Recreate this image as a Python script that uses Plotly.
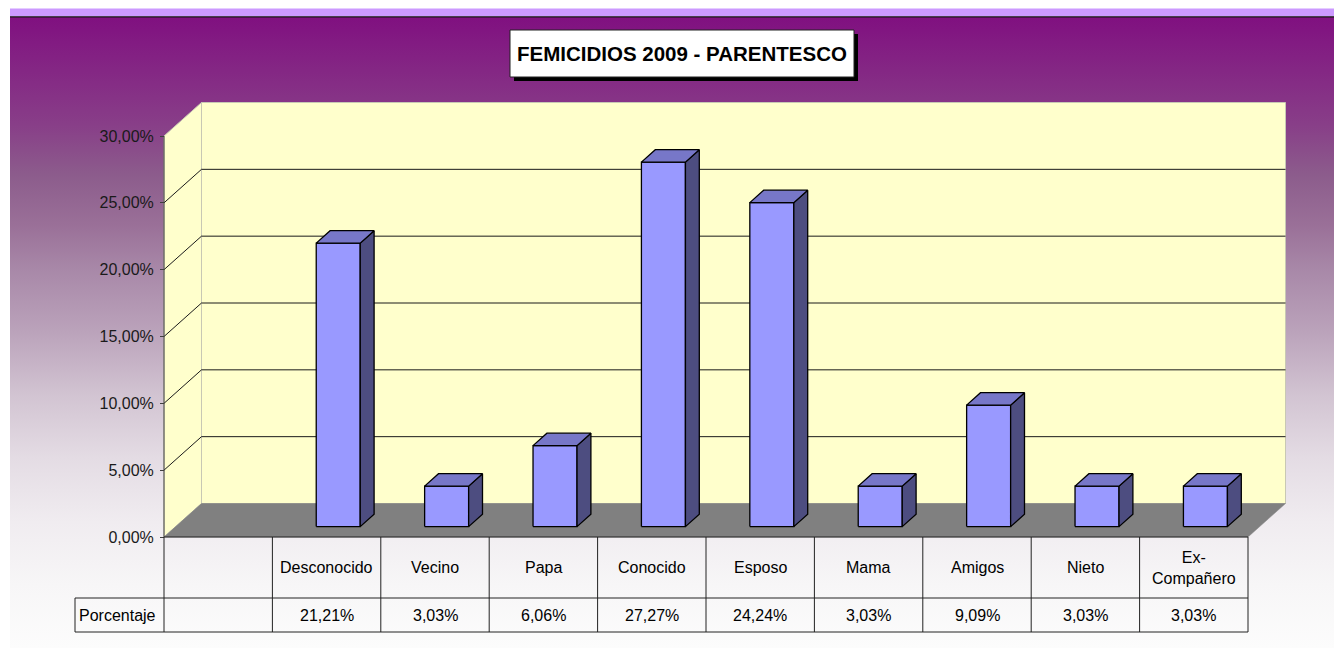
import plotly.graph_objects as go

# ---------------- data ----------------
categories = ["", "Desconocido", "Vecino", "Papa", "Conocido", "Esposo",
              "Mama", "Amigos", "Nieto", "Ex-Compañero"]
porcentaje = [None, 21.21, 3.03, 6.06, 27.27, 24.24, 3.03, 9.09, 3.03, 3.03]
tick_values = [0, 5, 10, 15, 20, 25, 30]
tick_labels = ["0,00%", "5,00%", "10,00%", "15,00%", "20,00%", "25,00%", "30,00%"]
title_text = "FEMICIDIOS 2009 - PARENTESCO"
series_name = "Porcentaje"

# ---------------- layout calibration (page pixel coordinates) ----------------
OFF = 8                 # default page margin around the plot div
W, H = 1342 - OFF, 648 - OFF
X0 = 164.0          # page x of left edge of first column
CW = 108.4          # width of one category column
Y0 = 537.0          # page y of the 0 % baseline (front)
PPU = 401.0 / 30.0  # pixels per 1 %
DXP, DYP = 37.5, 33.5   # 3D depth offset in pixels
ODX, ODY = DXP / CW, DYP / PPU
D_FRONT, D_BACK = 0.31, 0.68   # bar depth position
HALF_W = 22.0 / CW             # half bar width
VMAX = 30


def xd(px):  # page pixel -> x data
    return -0.5 + (px - X0) / CW


def yd(py):  # page pixel -> y data
    return (Y0 - py) / PPU


def ppx(px):
    return (px - OFF) / W


def ppy(py):
    return 1 - (py - OFF) / H


x_range = [xd(OFF), xd(OFF + W)]
y_range = [yd(OFF + H), yd(OFF)]

FONT = "Liberation Sans, Arial, sans-serif"
fig = go.Figure()

# background gradient of chart area
grad_scale = [
    [0.00, "#FCFCFC"], [0.10, "#F7F6F7"], [0.20, "#F0ECF0"], [0.30, "#E4DCE4"],
    [0.40, "#D2C4D2"], [0.50, "#BBA3BB"], [0.60, "#A888A8"], [0.67, "#9A7098"],
    [0.75, "#8C5C8C"], [0.83, "#883E88"], [1.00, "#801080"],
]
gx0, gx1 = xd(10), x_range[1] + 0.5
gy0, gy1 = y_range[0] - 0.2, yd(17)
fig.add_trace(go.Scatter(
    x=[gx0, gx1, gx1, gx0, gx0], y=[gy0, gy0, gy1, gy1, gy0],
    mode="lines", line=dict(width=0), fill="toself",
    fillgradient=dict(type="vertical", colorscale=grad_scale, start=yd(648), stop=gy1),
    hoverinfo="skip", showlegend=False))

L = -0.5
R = len(categories) - 0.5
WALL = "#FFFFCC"
WALL_EDGE = "#C8C8B4"
# side wall
fig.add_trace(go.Scatter(
    x=[L, L, L + ODX, L + ODX, L], y=[0, VMAX, VMAX + ODY, ODY, 0],
    mode="lines", fill="toself", fillcolor=WALL, line=dict(color=WALL_EDGE, width=1),
    hoverinfo="skip", showlegend=False))
# back wall
fig.add_trace(go.Scatter(
    x=[L + ODX, R + ODX, R + ODX, L + ODX, L + ODX],
    y=[ODY, ODY, VMAX + ODY, VMAX + ODY, ODY],
    mode="lines", fill="toself", fillcolor=WALL, line=dict(color=WALL_EDGE, width=1),
    hoverinfo="skip", showlegend=False))
# floor
fig.add_trace(go.Scatter(
    x=[L, R, R + ODX, L + ODX, L], y=[0, 0, ODY, ODY, 0],
    mode="lines", fill="toself", fillcolor="#808080", line=dict(color="#808080", width=0.5),
    hoverinfo="skip", showlegend=False))
# gridlines
gx, gy = [], []
for v in tick_values[1:-1]:
    gx += [L, L + ODX, R + ODX, None]
    gy += [v, v + ODY, v + ODY, None]
fig.add_trace(go.Scatter(x=gx, y=gy, mode="lines", line=dict(color="#1A1A1A", width=1),
                         hoverinfo="skip", showlegend=False))
# axis line
fig.add_trace(go.Scatter(x=[L, L], y=[0, VMAX], mode="lines",
                         line=dict(color="#404040", width=1),
                         hoverinfo="skip", showlegend=False))

# 3D bars
FRONT_C, SIDE_C, TOP_C = "#9999FF", "#4D4D80", "#7777C8"
for i, val in enumerate(porcentaje):
    if val is None:
        continue
    fx0 = i - HALF_W + D_FRONT * ODX
    fx1 = i + HALF_W + D_FRONT * ODX
    bx0 = i - HALF_W + D_BACK * ODX
    bx1 = i + HALF_W + D_BACK * ODX
    fy = D_FRONT * ODY
    by = D_BACK * ODY
    faces = [
        ([fx0, fx1, fx1, fx0, fx0], [fy, fy, val + fy, val + fy, fy], FRONT_C),
        ([fx1, bx1, bx1, fx1, fx1], [fy, by, val + by, val + fy, fy], SIDE_C),
        ([fx0, fx1, bx1, bx0, fx0], [val + fy, val + fy, val + by, val + by, val + fy], TOP_C),
    ]
    for xs, ys, col in faces:
        fig.add_trace(go.Scatter(
            x=xs, y=ys, mode="lines", fill="toself", fillcolor=col,
            line=dict(color="#000000", width=1.3), name=series_name,
            hoverinfo="skip", showlegend=False))

shapes = []
# top strip
shapes.append(dict(type="rect", xref="paper", yref="paper", x0=ppx(10), x1=1.0,
                   y0=ppy(16.5), y1=ppy(8.5), fillcolor="#CC99FF", line=dict(width=0),
                   layer="above"))
shapes.append(dict(type="line", xref="paper", yref="paper", x0=ppx(10), x1=1.0,
                   y0=ppy(16.8), y1=ppy(16.8), line=dict(color="#111111", width=1.2),
                   layer="above"))
# title box + shadow
shapes.append(dict(type="rect", xref="paper", yref="paper", x0=ppx(514), x1=ppx(858),
                   y0=ppy(81), y1=ppy(34), fillcolor="#000000", line=dict(width=0),
                   layer="above"))
shapes.append(dict(type="rect", xref="paper", yref="paper", x0=ppx(510), x1=ppx(854),
                   y0=ppy(77), y1=ppy(30), fillcolor="#FFFFFF",
                   line=dict(color="#222222", width=1), layer="above"))

# data table
ROW1 = yd(598)
ROW2 = yd(632)
LAB_L = xd(75)
TCOL = "#222222"
for y in (0, ROW1, ROW2):
    shapes.append(dict(type="line", xref="x", yref="y",
                       x0=(L if y == 0 else LAB_L), x1=R, y0=y, y1=y,
                       line=dict(color=TCOL, width=1), layer="above"))
for k in range(len(categories) + 1):
    shapes.append(dict(type="line", xref="x", yref="y", x0=L + k, x1=L + k,
                       y0=0, y1=ROW2, line=dict(color=TCOL, width=1), layer="above"))
shapes.append(dict(type="line", xref="x", yref="y", x0=LAB_L, x1=LAB_L,
                   y0=ROW1, y1=ROW2, line=dict(color=TCOL, width=1), layer="above"))

annotations = []
annotations.append(dict(xref="paper", yref="paper", x=ppx(682), y=ppy(53),
                        text="<b>" + title_text + "</b>", showarrow=False,
                        xanchor="center", yanchor="middle",
                        font=dict(family=FONT, size=20.5, color="#000000")))
row1_mid = yd(567.5)
row2_mid = yd(615)
for i, (cat, val) in enumerate(zip(categories, porcentaje)):
    if cat:
        annotations.append(dict(xref="x", yref="y", x=i, y=row1_mid,
                                text=cat.replace("Ex-", "Ex-<br>"), showarrow=False,
                                xanchor="center", yanchor="middle",
                                font=dict(family=FONT, size=16, color="#000000")))
    if val is not None:
        annotations.append(dict(xref="x", yref="y", x=i, y=row2_mid,
                                text=f"{val:.2f}%".replace(".", ","), showarrow=False,
                                xanchor="center", yanchor="middle",
                                font=dict(family=FONT, size=16, color="#000000")))
annotations.append(dict(xref="x", yref="y", x=LAB_L, y=row2_mid, text=series_name,
                        showarrow=False, xanchor="left", yanchor="middle", xshift=2,
                        font=dict(family=FONT, size=16, color="#000000")))

fig.update_layout(
    width=W, height=H,
    margin=dict(l=0, r=0, t=0, b=0),
    paper_bgcolor="#FFFFFF", plot_bgcolor="rgba(0,0,0,0)",
    showlegend=False,
    xaxis=dict(range=x_range, visible=False, fixedrange=True),
    yaxis=dict(range=y_range, anchor="free", position=(X0 - OFF) / W,
               tickmode="array", tickvals=tick_values, ticktext=tick_labels,
               ticks="outside", ticklen=4, tickcolor="#404040", tickwidth=1,
               showline=False, showgrid=False, zeroline=False, fixedrange=True,
               ticklabelstandoff=3,
               tickfont=dict(family=FONT, size=16, color="#1A1A1A")),
    shapes=shapes, annotations=annotations,
)

fig.write_html("out.html", config={"displayModeBar": False, "staticPlot": True})
